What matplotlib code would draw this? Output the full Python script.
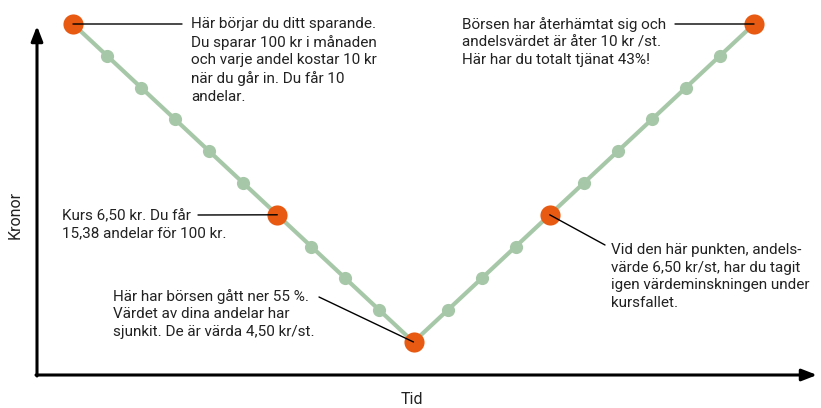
import matplotlib
matplotlib.use("Agg")
import matplotlib.pyplot as plt

plt.rcParams['font.family'] = ['Roboto', 'DejaVu Sans']

# Data
time_steps = list(range(21))
kronor = [10, 9.45, 8.9, 8.35, 7.8, 7.25, 6.7, 6.15, 5.6, 5.05, 4.5,
          5.05, 5.6, 6.15, 6.7, 7.25, 7.8, 8.35, 8.9, 9.45, 10]
highlight_idx = [0, 6, 10, 14, 20]

notes = [
    "Här börjar du ditt sparande.\nDu sparar 100 kr i månaden\noch varje andel kostar 10 kr\nnär du går in. Du får 10\nandelar.",
    "Kurs 6,50 kr. Du får\n15,38 andelar för 100 kr.",
    "Här har börsen gått ner 55 %.\nVärdet av dina andelar har\nsjunkit. De är värda 4,50 kr/st.",
    "Vid den här punkten, andels-\nvärde 6,50 kr/st, har du tagit\nigen värdeminskningen under\nkursfallet.",
    "Börsen har återhämtat sig och\nandelsvärdet är åter 10 kr /st.\nHär har du totalt tjänat 43%!",
]
x_label = "Tid"
y_label = "Kronor"

W, H = 821, 408
fig = plt.figure(figsize=(W / 100, H / 100), dpi=100)
ax = fig.add_axes([0, 0, 1, 1])
ax.set_axis_off()

# pixel mapping: x=0 -> 73px, x=20 -> 754px ; y=10 -> 24px, y=4.5 -> 342px (from top)
sx = (754 - 73) / 20.0
sy = (342 - 24) / 5.5
ax.set_xlim(-73 / sx, (W - 73) / sx)
ax.set_ylim(10 - (H - 24) / sy, 10 + 24 / sy)

def px(xp, yp):
    """pixel (from top-left) to axes fraction"""
    return xp / W, 1 - yp / H

green = '#a7c8a8'
orange = '#e85a12'
tc = '#222222'

ax.plot(time_steps, kronor, color=green, lw=3.0, zorder=2, solid_capstyle='round')
ax.plot(time_steps, kronor, 'o', color=green, ms=9.5, zorder=3, markeredgewidth=0)
hx = [time_steps[i] for i in highlight_idx]
hy = [kronor[i] for i in highlight_idx]
ax.plot(hx, hy, 'o', color=orange, ms=14.5, zorder=4, markeredgewidth=0)

# axes arrows
arrow_kw = dict(arrowstyle='-|>,head_length=0.9,head_width=0.35', color='black', lw=2.2,
                shrinkA=0, shrinkB=0)
ax.annotate('', xy=px(37, 26), xytext=px(37, 376), xycoords='axes fraction',
            textcoords='axes fraction', arrowprops=arrow_kw)
ax.annotate('', xy=px(817, 375), xytext=px(36, 375), xycoords='axes fraction',
            textcoords='axes fraction', arrowprops=arrow_kw)

ax.text(*px(15, 215), y_label, rotation=90, ha='center', va='center',
        transform=ax.transAxes, fontsize=11.5, color=tc)
ax.text(*px(412, 399), x_label, ha='center', va='center',
        transform=ax.transAxes, fontsize=11.5, color=tc)

fs = 11
ls = 1.32
# text positions: (left x px, top y px), leader lines
text_pos = [(191, 17), (62, 209), (113, 289), (611, 243), (462, 17)]
leader_start = [(182, 24), (198, 215), (319, 297), (605, 245), (675, 24)]

for note, (tx, ty) in zip(notes, text_pos):
    ax.text(*px(tx, ty), note, ha='left', va='top', transform=ax.transAxes,
            fontsize=fs, color=tc, linespacing=ls)

for (lx, ly), i in zip(leader_start, [0, 6, 10, 14, 20]):
    ax.annotate('', xy=(time_steps[i], kronor[i]), xycoords='data',
                xytext=px(lx, ly), textcoords='axes fraction',
                arrowprops=dict(arrowstyle='-', color='black', lw=1.0,
                                shrinkA=0, shrinkB=0), zorder=5)

fig.savefig('out.png', dpi=100)
